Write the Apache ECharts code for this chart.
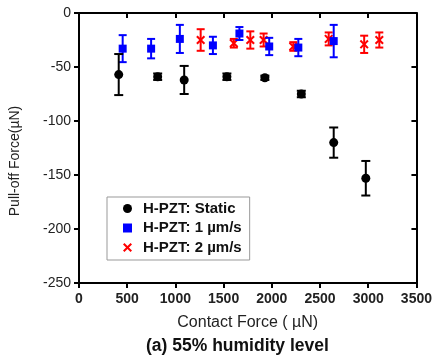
<!DOCTYPE html>
<html>
<head>
<meta charset="utf-8">
<script src="https://cdn.jsdelivr.net/npm/echarts@6/dist/echarts.min.js"></script>
<style>
  html, body { margin: 0; padding: 0; background: #fff; }
  #chart { width: 435px; height: 358px; }
</style>
</head>
<body>
<div id="chart"></div>
<script>
// Pull-off force vs. contact force, H-PZT at 55% humidity
const staticX   = [412, 816, 1091, 1534, 1928, 2306, 2642, 2975];
const staticY   = [-57, -59, -62, -59, -60, -75, -120, -153];
const staticErr = [19, 3, 13, 3, 2, 3, 14, 16];

const v1X   = [453, 748, 1046, 1389, 1664, 1973, 2275, 2642];
const v1Y   = [-33, -33, -24, -30, -19, -31, -32, -26];
const v1Err = [12.5, 9, 13, 8, 6, 8, 8, 15];

const v2X   = [1262, 1606, 1777, 1915, 2223, 2590, 2958, 3115];
const v2Y   = [-25, -28, -25, -25, -31, -24, -29, -25];
const v2Err = [10, 4, 8, 6, 4, 6, 8, 7];

const seriesNames = ['H-PZT: Static', 'H-PZT: 1 \u00b5m/s', 'H-PZT: 2 \u00b5m/s'];
const seriesColors = ['#000000', '#0000ff', '#ff0000'];

const xMin = 0, xMax = 3500, xStep = 500;
const yMin = -250, yMax = 0, yStep = 50;

const xName = 'Contact Force ( \u00b5N)';
const yName = 'Pull-off Force(\u00b5N)';
const caption = '(a) 55% humidity level';

const crossPath = 'path://M0,1.6 L1.6,0 L5,3.4 L8.4,0 L10,1.6 L6.6,5 L10,8.4 L8.4,10 L5,6.6 L1.6,10 L0,8.4 L3.4,5 Z';

function zip3(a, b, c) { return a.map((v, i) => [v, b[i], c[i]]); }

function errorBarRenderer(color, halfCap) {
  return function (params, api) {
    const x = api.value(0), y = api.value(1), e = api.value(2);
    const hi = api.coord([x, y + e]);
    const lo = api.coord([x, y - e]);
    const st = { stroke: color, lineWidth: 2 };
    return {
      type: 'group',
      children: [
        { type: 'line', shape: { x1: hi[0], y1: hi[1], x2: lo[0], y2: lo[1] }, style: st },
        { type: 'line', shape: { x1: hi[0] - halfCap, y1: hi[1], x2: hi[0] + halfCap, y2: hi[1] }, style: st },
        { type: 'line', shape: { x1: lo[0] - halfCap, y1: lo[1], x2: lo[0] + halfCap, y2: lo[1] }, style: st }
      ]
    };
  };
}

const groups = [
  { name: seriesNames[0], color: seriesColors[0], x: staticX, y: staticY, e: staticErr, symbol: 'circle', size: 9, cap: 4.5, z: 4 },
  { name: seriesNames[1], color: seriesColors[1], x: v1X, y: v1Y, e: v1Err, symbol: 'rect', size: 8, cap: 4, z: 3 },
  { name: seriesNames[2], color: seriesColors[2], x: v2X, y: v2Y, e: v2Err, symbol: crossPath, size: 9, cap: 4, z: 2 }
];

const series = [];
groups.forEach(g => {
  const data = zip3(g.x, g.y, g.e);
  series.push({
    type: 'custom',
    name: g.name + ' err',
    renderItem: errorBarRenderer(g.color, g.cap),
    data: data,
    z: g.z,
    silent: true
  });
  series.push({
    type: 'scatter',
    name: g.name,
    symbol: g.symbol,
    symbolSize: g.size,
    symbolKeepAspect: true,
    itemStyle: { color: g.color, opacity: 1 },
    data: data.map(d => [d[0], d[1]]),
    z: g.z
  });
});

const font = 'Arial, "Liberation Sans", sans-serif';

const chart = echarts.init(document.getElementById('chart'), null, { renderer: 'canvas' });
chart.setOption({
  animation: false,
  backgroundColor: '#ffffff',
  textStyle: { fontFamily: font },
  title: {
    text: caption,
    left: 146,
    top: 337,
    textStyle: { fontFamily: font, fontSize: 17.5, fontWeight: 'bold', color: '#111' },
    padding: 0,
    itemGap: 0
  },
  legend: {
    orient: 'vertical',
    left: 107,
    top: 197,
    padding: [4, 8, 5, 16],
    itemWidth: 9,
    itemHeight: 9,
    itemGap: 4.5,
    borderColor: '#999',
    borderWidth: 1,
    data: seriesNames,
    textStyle: { fontFamily: font, fontSize: 15, fontWeight: 'bold', color: '#111', lineHeight: 15, padding: [0, 0, 0, 6] }
  },
  grid: { left: 77, right: 18, top: 13, bottom: 75, containLabel: false },
  xAxis: [
    {
      type: 'value', min: xMin, max: xMax, interval: xStep,
      position: 'bottom',
      name: xName, nameLocation: 'middle', nameGap: 32,
      nameTextStyle: { fontFamily: font, fontSize: 16, color: '#222' },
      axisLine: { show: true, onZero: false, lineStyle: { color: '#000', width: 2 } },
      axisTick: { show: true, inside: false, length: 5, lineStyle: { color: '#000', width: 2 } },
      axisLabel: { margin: 9, fontFamily: font, fontSize: 14, fontWeight: 'bold', color: '#222', formatter: v => String(v) },
      splitLine: { show: false }
    },
    {
      type: 'value', min: xMin, max: xMax, interval: xStep,
      position: 'top',
      axisLine: { show: true, onZero: false, lineStyle: { color: '#000', width: 2 } },
      axisTick: { show: true, inside: true, length: 5, lineStyle: { color: '#000', width: 2 } },
      axisLabel: { show: false },
      splitLine: { show: false }
    }
  ],
  yAxis: [
    {
      type: 'value', min: yMin, max: yMax, interval: yStep,
      position: 'left',
      name: yName, nameLocation: 'middle', nameGap: 57, nameRotate: 90,
      nameTextStyle: { fontFamily: font, fontSize: 14, color: '#222', padding: [0, 26, 0, 0] },
      axisLine: { show: true, onZero: false, lineStyle: { color: '#000', width: 2 } },
      axisTick: { show: true, inside: false, length: 5, lineStyle: { color: '#000', width: 2 } },
      axisLabel: { margin: 8, fontFamily: font, fontSize: 14, color: '#222', formatter: v => String(v) },
      splitLine: { show: false }
    },
    {
      type: 'value', min: yMin, max: yMax, interval: yStep,
      position: 'right',
      axisLine: { show: true, onZero: false, lineStyle: { color: '#000', width: 2 } },
      axisTick: { show: true, inside: true, length: 5, lineStyle: { color: '#000', width: 2 } },
      axisLabel: { show: false },
      splitLine: { show: false }
    }
  ],
  series: series
});
</script>
</body>
</html>
